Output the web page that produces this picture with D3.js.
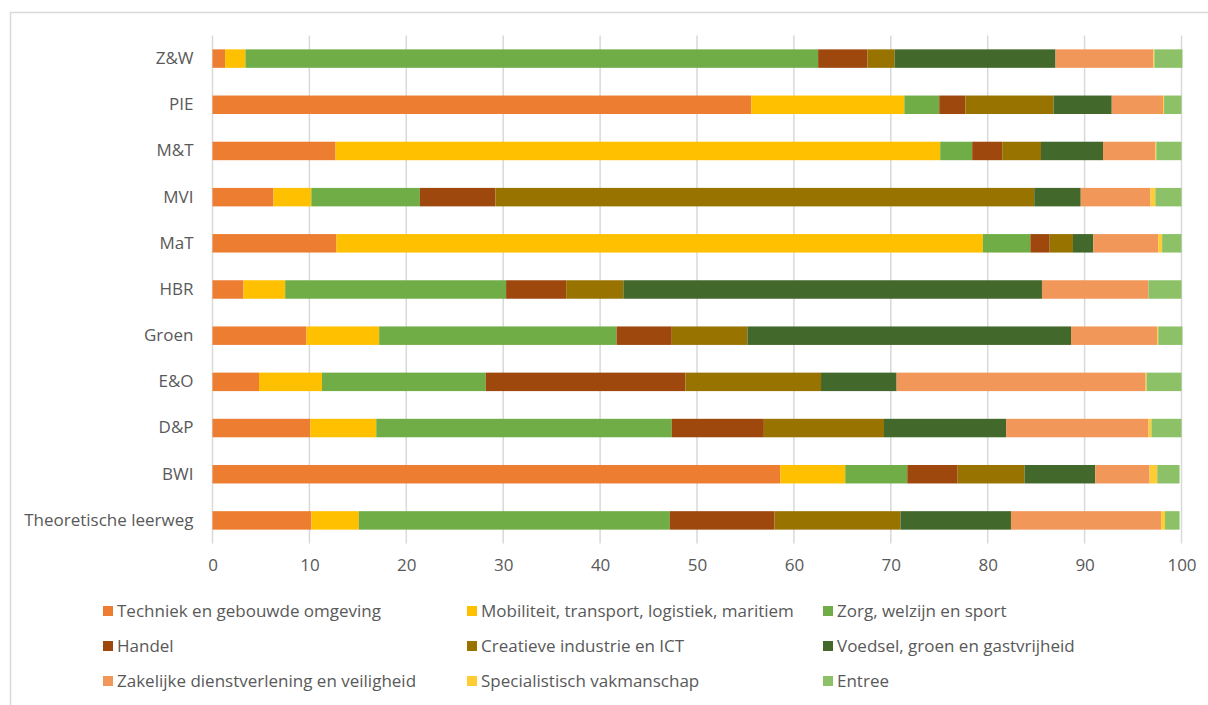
<!DOCTYPE html>
<html>
<head>
<meta charset="utf-8">
<script src="https://cdn.jsdelivr.net/npm/d3@7/dist/d3.min.js"></script>
<style>
  html, body { margin: 0; padding: 0; background: #fff; }
  svg { display: block; font-family: "Open Sans", sans-serif; }
</style>
</head>
<body>
<svg id="chart" width="1208" height="705"></svg>
<script>
// Categories (top to bottom)
const categories = ["Z&W", "PIE", "M&T", "MVI", "MaT", "HBR", "Groen", "E&O", "D&P", "BWI", "Theoretische leerweg"];

const seriesNames = [
  "Techniek en gebouwde omgeving",
  "Mobiliteit, transport, logistiek, maritiem",
  "Zorg, welzijn en sport",
  "Handel",
  "Creatieve industrie en ICT",
  "Voedsel, groen en gastvrijheid",
  "Zakelijke dienstverlening en veiligheid",
  "Specialistisch vakmanschap",
  "Entree"
];

const seriesColors = ["#ED7D31", "#FFC000", "#70AD47", "#9E480E", "#997300", "#43682B", "#F1975A", "#FFCD33", "#8CC168"];

// Values per series, in category order
const techniek     = [1.3, 55.6, 12.7, 6.3, 12.8, 3.2, 9.7, 4.8, 10.1, 58.6, 10.2];
const mobiliteit   = [2.1, 15.8, 62.4, 3.9, 66.7, 4.3, 7.5, 6.5, 6.8, 6.7, 4.9];
const zorg         = [59.1, 3.6, 3.3, 11.2, 4.9, 22.8, 24.5, 16.9, 30.5, 6.4, 32.1];
const handel       = [5.1, 2.7, 3.1, 7.8, 2.0, 6.2, 5.7, 20.6, 9.5, 5.2, 10.8];
const creatieve    = [2.8, 9.1, 4.0, 55.6, 2.4, 5.9, 7.8, 14.0, 12.4, 6.9, 13.0];
const voedsel      = [16.6, 6.0, 6.4, 4.8, 2.1, 43.2, 33.4, 7.8, 12.6, 7.3, 11.4];
const zakelijke    = [10.1, 5.3, 5.4, 7.2, 6.7, 11.0, 8.9, 25.7, 14.7, 5.6, 15.5];
const specialistisch = [0.1, 0.1, 0.1, 0.5, 0.4, 0.0, 0.1, 0.1, 0.3, 0.8, 0.4];
const entree       = [2.9, 1.8, 2.6, 2.7, 2.0, 3.4, 2.5, 3.6, 3.1, 2.3, 1.5];

const xTicks = [0, 10, 20, 30, 40, 50, 60, 70, 80, 90, 100];

const seriesValues = [techniek, mobiliteit, zorg, handel, creatieve, voedsel, zakelijke, specialistisch, entree];

// Build table for d3.stack
const table = categories.map((c, i) => {
  const row = { cat: c };
  seriesNames.forEach((s, j) => { row[s] = seriesValues[j][i]; });
  return row;
});

const svg = d3.select("#chart");
const W = 1208, H = 705;

// chart border
svg.append("rect")
  .attr("x", 10.5).attr("y", 12.5)
  .attr("width", W).attr("height", H)
  .attr("fill", "none").attr("stroke", "#d9d9d9").attr("stroke-width", 1.5);

const plot = { left: 212.5, right: 1181.5, top: 35.5, bottom: 543.5 };

const x = d3.scaleLinear().domain([0, 100]).range([plot.left, plot.right]);
const y = d3.scaleBand().domain(categories).range([plot.top, plot.bottom]).paddingInner(0.6).paddingOuter(0.3);

// gridlines
svg.append("g")
  .selectAll("line")
  .data(xTicks)
  .join("line")
  .attr("x1", d => x(d)).attr("x2", d => x(d))
  .attr("y1", plot.top).attr("y2", plot.bottom)
  .attr("stroke", "#d9d9d9").attr("stroke-width", 1.5);

// stacked bars
const stack = d3.stack().keys(seriesNames);
const stacked = stack(table);

svg.append("g")
  .selectAll("g")
  .data(stacked)
  .join("g")
  .attr("fill", (d, i) => seriesColors[i])
  .selectAll("rect")
  .data(d => d)
  .join("rect")
  .attr("x", d => x(d[0]))
  .attr("y", d => y(d.data.cat))
  .attr("width", d => Math.max(0, x(d[1]) - x(d[0])))
  .attr("height", y.bandwidth());

const FONT = "'Open Sans', sans-serif";
const FS = "17px";

// y axis labels
const yAxis = d3.axisLeft(y).tickSize(0).tickPadding(19);
const gy = svg.append("g").attr("transform", `translate(${plot.left},0)`).call(yAxis);
gy.select(".domain").remove();
gy.selectAll("text").attr("fill", "#595959").style("font-size", FS).style("font-family", FONT);

// x axis labels
const xAxis = d3.axisBottom(x).tickValues(xTicks).tickSize(0).tickPadding(15).tickFormat(d3.format("d"));
const gx = svg.append("g").attr("transform", `translate(0,${plot.bottom})`).call(xAxis);
gx.select(".domain").remove();
gx.selectAll("text").attr("fill", "#595959").style("font-size", FS).style("font-family", FONT);

// legend
const legendCols = [103, 467, 823];
const legendRows = [611, 646, 681];
const legend = svg.append("g");
seriesNames.forEach((s, i) => {
  const col = i % 3, row = Math.floor(i / 3);
  const g = legend.append("g").attr("transform", `translate(${legendCols[col]},${legendRows[row]})`);
  g.append("rect").attr("x", 0).attr("y", -5).attr("width", 10).attr("height", 10).attr("fill", seriesColors[i]);
  g.append("text").attr("x", 14).attr("y", 0).attr("dy", "0.35em")
    .attr("fill", "#595959").style("font-size", FS).style("font-family", FONT).text(s);
});
</script>
</body>
</html>
